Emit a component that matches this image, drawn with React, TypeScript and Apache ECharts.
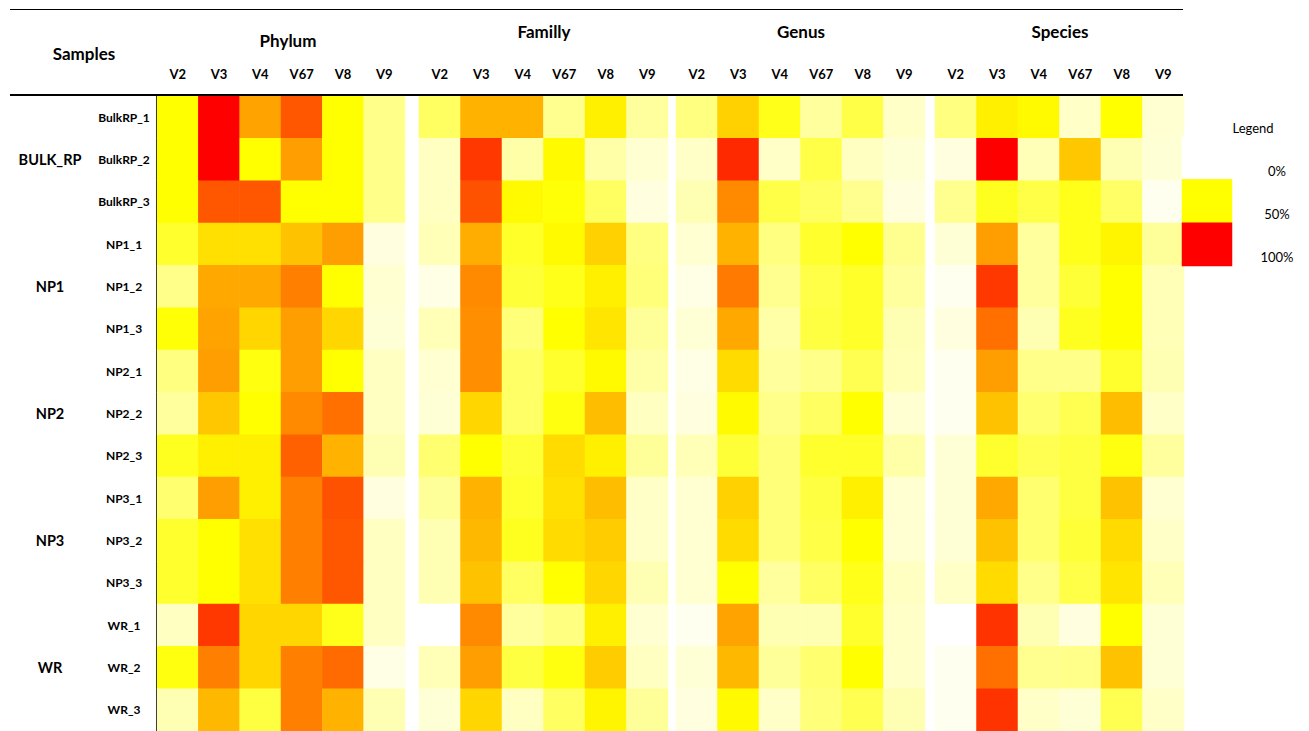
import React, { useEffect, useRef } from "react";
import * as echarts from "echarts";

// Region columns shared by every taxonomic level
const columns = ["V2", "V3", "V4", "V67", "V8", "V9"];
const levels = ["Phylum", "Familly", "Genus", "Species"];

const samples = [
  "BulkRP_1", "BulkRP_2", "BulkRP_3",
  "NP1_1", "NP1_2", "NP1_3",
  "NP2_1", "NP2_2", "NP2_3",
  "NP3_1", "NP3_2", "NP3_3",
  "WR_1", "WR_2", "WR_3",
];
// Group name shown beside the middle replicate of each group
const sampleGroups = ["", "BULK_RP", "", "", "NP1", "", "", "NP2", "", "", "NP3", "", "", "WR", ""];

const legendSteps = ["0%", "50%", "100%"];
const legendValues = [0, 50, 100];

// Relative values (%) per sample (rows) and region (columns)
const phylum = [
  [50, 100, 68, 83, 50, 23],
  [50, 100, 50, 69, 50, 23],
  [50, 83, 83, 50, 50, 23],
  [41, 56, 56, 62, 69, 6],
  [23, 67, 67, 75, 50, 9],
  [49, 68, 58, 69, 58, 8],
  [25, 69, 47, 69, 50, 12],
  [19, 61, 50, 73, 78, 12],
  [44, 53, 53, 81, 65, 15],
  [28, 69, 53, 75, 84, 6],
  [41, 50, 56, 75, 83, 12],
  [41, 50, 56, 75, 83, 12],
  [12, 89, 58, 58, 45, 12],
  [47, 75, 58, 75, 79, 5],
  [15, 64, 37, 75, 65, 15],
];

const family = [
  [31, 65, 65, 22, 53, 19],
  [12, 89, 17, 51, 17, 9],
  [12, 84, 51, 49, 31, 6],
  [14, 66, 42, 51, 59, 25],
  [5, 73, 39, 45, 53, 26],
  [14, 72, 26, 50, 55, 20],
  [9, 72, 30, 41, 51, 17],
  [8, 58, 30, 47, 63, 12],
  [28, 50, 39, 57, 53, 20],
  [20, 65, 41, 56, 63, 11],
  [15, 64, 44, 57, 60, 11],
  [15, 62, 31, 50, 58, 15],
  [0, 73, 19, 25, 53, 9],
  [14, 69, 37, 47, 60, 12],
  [8, 58, 12, 31, 52, 20],
];

const genus = [
  [25, 59, 45, 19, 36, 11],
  [11, 92, 11, 36, 12, 8],
  [15, 73, 36, 31, 22, 6],
  [9, 65, 25, 41, 50, 22],
  [5, 76, 22, 36, 42, 19],
  [8, 67, 17, 37, 42, 15],
  [5, 57, 19, 23, 34, 14],
  [6, 51, 23, 31, 50, 9],
  [14, 39, 26, 41, 42, 17],
  [9, 59, 26, 37, 53, 9],
  [9, 57, 26, 36, 50, 9],
  [9, 50, 19, 31, 45, 12],
  [3, 68, 15, 15, 41, 11],
  [8, 64, 20, 28, 50, 11],
  [6, 51, 11, 26, 34, 15],
];

const species = [
  [25, 53, 51, 11, 50, 9],
  [6, 100, 14, 61, 15, 8],
  [22, 44, 36, 45, 30, 3],
  [8, 69, 19, 45, 52, 20],
  [3, 89, 19, 39, 50, 14],
  [6, 78, 15, 44, 50, 14],
  [3, 69, 23, 23, 41, 15],
  [3, 62, 28, 34, 63, 11],
  [8, 41, 34, 37, 47, 19],
  [8, 67, 28, 37, 62, 9],
  [8, 62, 28, 39, 57, 11],
  [11, 57, 23, 36, 55, 14],
  [0, 90, 15, 6, 50, 8],
  [3, 78, 22, 23, 62, 8],
  [3, 90, 11, 8, 34, 11],
];

const matrices = [phylum, family, genus, species];

const FONT = "Lato, 'Open Sans', sans-serif";
const INK = "#000";

// Layout of the four blocks (left edge, width) and of the rows
const blocks = [
  { left: 157, width: 248, titleX: 288, titleY: 40 },
  { left: 419, width: 249, titleX: 544, titleY: 31 },
  { left: 676, width: 249, titleX: 801, titleY: 31 },
  { left: 935, width: 249, titleX: 1060, titleY: 31 },
];
const GRID_TOP = 96;
const ROW_H = 42.5;

function toCells(m: number[][]) {
  const out: [number, number, number][] = [];
  m.forEach((row, r) => row.forEach((v, c) => out.push([c, r, v])));
  return out;
}

export default function App() {
  const ref = useRef<HTMLDivElement>(null);

  useEffect(() => {
    if (!ref.current) return;
    const chart = echarts.init(ref.current, undefined, { renderer: "svg" });

    const grids: any[] = blocks.map((b) => ({
      left: b.left,
      top: GRID_TOP,
      width: b.width,
      height: ROW_H * samples.length,
      containLabel: false,
    }));
    // legend block
    grids.push({ left: 1182, top: 136, width: 50, height: 130 });

    const xAxes: any[] = blocks.map((_, i) => ({
      type: "category",
      gridIndex: i,
      data: columns,
      position: "top",
      axisLine: { show: false },
      axisTick: { show: false },
      splitLine: { show: false },
      axisLabel: {
        interval: 0,
        margin: 16,
        color: INK,
        fontFamily: FONT,
        fontWeight: "bold",
        fontSize: 13,
      },
    }));
    xAxes.push({ type: "category", gridIndex: 4, data: [""], show: false });

    const yAxes: any[] = blocks.map((_, i) => ({
      type: "category",
      gridIndex: i,
      data: samples,
      inverse: true,
      axisTick: { show: false },
      splitLine: { show: false },
      axisLine: i === 0 ? { show: true, lineStyle: { color: INK, width: 2 } } : { show: false },
      axisLabel:
        i === 0
          ? {
              interval: 0,
              align: "center",
              margin: 33,
              color: INK,
              fontFamily: FONT,
              fontWeight: "bold",
              fontSize: 12,
            }
          : { show: false },
    }));
    // group names to the left of the sample names
    yAxes.push({
      type: "category",
      gridIndex: 0,
      data: samples,
      inverse: true,
      position: "left",
      axisLine: { show: false },
      axisTick: { show: false },
      splitLine: { show: false },
      axisLabel: {
        interval: 0,
        align: "center",
        margin: 107,
        color: INK,
        fontFamily: FONT,
        fontWeight: "bold",
        fontSize: 14.5,
        formatter: (_v: string, idx: number) => sampleGroups[idx],
      },
    });
    // legend scale labels, sitting near the bottom of each swatch
    yAxes.push({
      type: "category",
      gridIndex: 4,
      data: legendSteps,
      inverse: true,
      position: "right",
      axisLine: { show: false },
      axisTick: { show: false },
      splitLine: { show: false },
      axisLabel: {
        interval: 0,
        align: "center",
        verticalAlign: "top",
        lineHeight: 26,
        margin: 45,
        color: INK,
        fontFamily: FONT,
        fontSize: 13,
      },
    });

    const series: any[] = matrices.map((m, i) => ({
      type: "heatmap",
      xAxisIndex: i,
      yAxisIndex: i,
      data: toCells(m),
      itemStyle: { borderWidth: 0 },
      emphasis: { disabled: true },
    }));
    series.push({
      type: "heatmap",
      xAxisIndex: 4,
      yAxisIndex: 5,
      data: legendValues.map((v, r) => [0, r, v]),
      itemStyle: { borderWidth: 0 },
      emphasis: { disabled: true },
    });

    const titleText = (text: string, x: number, y: number, size: number, weight: string) => ({
      type: "text",
      x,
      y,
      silent: true,
      style: {
        text,
        fill: INK,
        font: `${weight} ${size}px ${FONT}`,
        textAlign: "center",
        textVerticalAlign: "middle",
        align: "center",
        verticalAlign: "middle",
      },
    });

    const graphic: any[] = [
      { type: "line", shape: { x1: 10, y1: 9.5, x2: 1183, y2: 9.5 }, style: { stroke: INK, lineWidth: 1 }, silent: true },
      { type: "line", shape: { x1: 10, y1: 95, x2: 1183, y2: 95 }, style: { stroke: INK, lineWidth: 2 }, silent: true, z: 10 },
      titleText("Samples", 84, 53, 17, "bold"),
      ...levels.map((l, i) => titleText(l, blocks[i].titleX, blocks[i].titleY, 17, "bold")),
      titleText("Legend", 1253, 128, 13, "normal"),
    ];

    chart.setOption({
      animation: false,
      grid: grids,
      xAxis: xAxes,
      yAxis: yAxes,
      visualMap: {
        type: "continuous",
        show: false,
        min: 0,
        max: 100,
        seriesIndex: [0, 1, 2, 3, 4],
        inRange: { color: ["#FFFFFF", "#FFFF00", "#FF0000"] },
      },
      series,
      graphic,
    });

    return () => chart.dispose();
  }, []);

  return (
    <div
      ref={ref}
      style={{ position: "fixed", left: 0, top: 0, width: 1309, height: 731, background: "#fff" }}
    />
  );
}
